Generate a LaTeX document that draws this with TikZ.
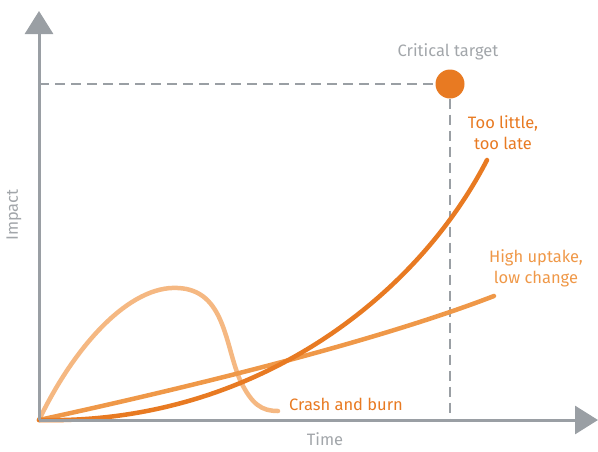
\documentclass[tikz,border=0pt]{standalone}
\usepackage{fontspec}
\setmainfont{Fira Sans}
\usetikzlibrary{arrows.meta}
\definecolor{axisgray}{HTML}{9A9FA4}
\definecolor{textgray}{HTML}{A2A6AA}
\definecolor{darkorange}{HTML}{E87A22}
\definecolor{midorange}{HTML}{EF9848}
\definecolor{lightorange}{HTML}{F5B882}
\tikzset{
    axis/.style={draw=axisgray,line width=3pt,-{Triangle[width=28pt,length=23pt]}},
    guide/.style={draw=axisgray,line width=2pt,dash pattern=on 10pt off 6pt},
    curve/.style={line width=4.5pt,line cap=round},
    lbl/.style={font=\fontsize{16.5}{21}\selectfont,inner sep=0pt,align=center},
}
\begin{document}
\begin{tikzpicture}[x=1pt,y=-1pt]
    \useasboundingbox (0,0) rectangle (598,451);
    \coordinate (origin) at (39,420);
    \coordinate (ytop) at (39,11);
    \coordinate (xend) at (598,420);
    \node[circle,fill=darkorange,minimum size=29pt,inner sep=0pt] (target) at (450,84) {};
    \coordinate (ylevel) at (39,84);
    \coordinate (xlevel) at (450,420);
    % guides to the target
    \draw[guide] (ylevel) -- (target.west);
    \draw[guide] (target.south) -- (xlevel);
    % curves
    \draw[curve,lightorange] (origin) .. controls (75,345) and (130,285) .. (178,288)
        .. controls (225,290) and (225,345) .. (240,380)
        .. controls (252,405) and (262,411) .. (278,411);
    \draw[curve,midorange] (origin) .. controls (200,385) and (380,340) .. (494,296);
    \draw[curve,darkorange] (origin) .. controls (250,425) and (415,300) .. (487,160);
    % axes
    \draw[axis] (origin) -- (ytop);
    \draw[axis] (origin) -- (xend);
    % labels
    \node[lbl,textgray] (tlabel) at (448,52) {Critical target};
    \node[lbl,darkorange] (late) at (503,133) {Too little,\\too late};
    \node[lbl,midorange] (uptake) at (536,268) {High uptake,\\low change};
    \node[lbl,darkorange,anchor=west] (crash) at (289,404) {Crash and burn};
    \node[lbl,textgray] (time) at (325,439) {Time};
    \node[lbl,textgray,rotate=90] (impact) at (14,215) {Impact};
\end{tikzpicture}
\end{document}
